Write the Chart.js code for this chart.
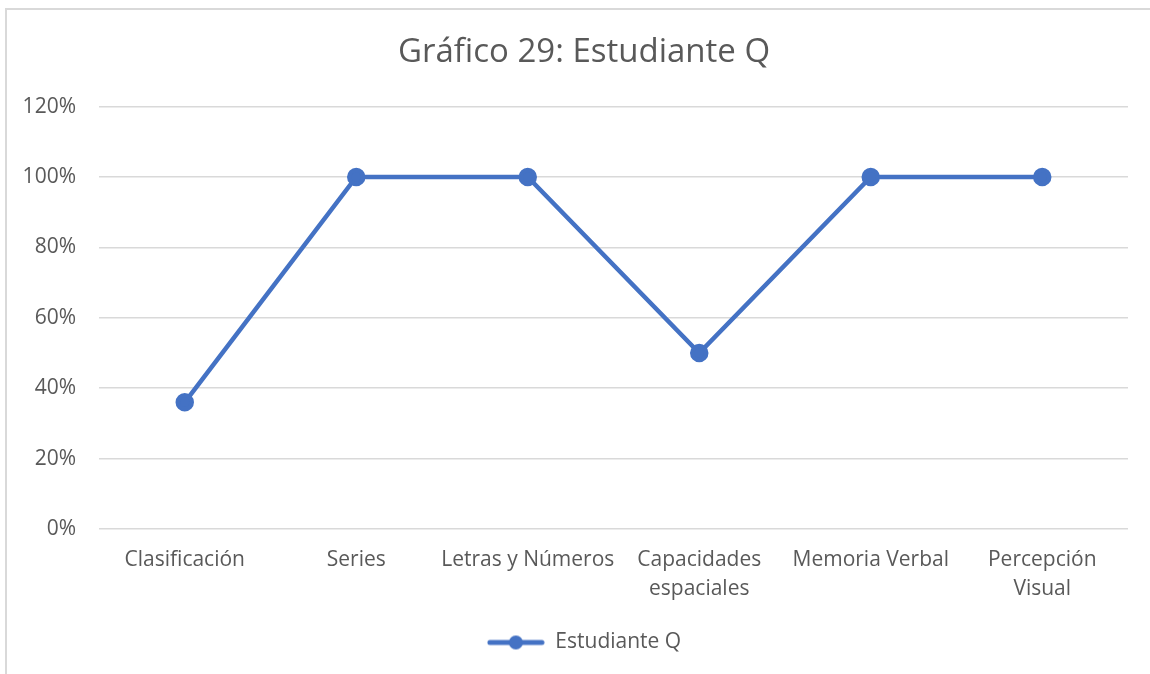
<!DOCTYPE html>
<html>
<head>
<meta charset="utf-8">
<script src="https://cdn.jsdelivr.net/npm/chart.js@4.4.1/dist/chart.umd.min.js"></script>
<style>
  html, body { margin: 0; padding: 0; background: #ffffff; }
  #wrap { position: relative; width: 1150px; height: 674px; overflow: hidden; }
  #frame { position: absolute; left: 5px; top: 8px; width: 1200px; height: 720px;
           border-left: 2px solid #d9d9d9; border-top: 2px solid #d9d9d9; }
  canvas { position: absolute; left: 0; top: 0; }
</style>
</head>
<body>
<div id="wrap">
  <div id="frame"></div>
  <canvas id="chart" width="1150" height="674"></canvas>
</div>
<script>
// Chart data
const categories = ['Clasificación', 'Series', 'Letras y Números', ['Capacidades', 'espaciales'], 'Memoria Verbal', ['Percepción', 'Visual']];
const seriesName = 'Estudiante Q';
const seriesValues = [0.36, 1.00, 1.00, 0.50, 1.00, 1.00];
const yTicks = [0, 0.2, 0.4, 0.6, 0.8, 1.0, 1.2];

const BLUE = '#4472C4';
const TEXT = '#595959';
const GRID = '#d9d9d9';
const FONT = '"Open Sans", "Noto Sans", sans-serif';

// Legend marker: short line with a dot in the middle
function legendMarker() {
  const c = document.createElement('canvas');
  c.width = 58; c.height = 16;
  const g = c.getContext('2d');
  g.strokeStyle = BLUE; g.lineWidth = 5; g.lineCap = 'round';
  g.beginPath(); g.moveTo(3, 8); g.lineTo(55, 8); g.stroke();
  g.fillStyle = BLUE;
  g.beginPath(); g.arc(29, 8, 7, 0, Math.PI * 2); g.fill();
  return c;
}

// Nudge title and legend slightly right, centred on the framed area
const nudgeBoxes = {
  id: 'nudgeBoxes',
  afterLayout(chart) {
    const dx = 10;
    for (const box of [chart.titleBlock, chart.legend]) {
      if (!box) continue;
      box.left += dx;
      box.right += dx;
    }
  }
};

new Chart(document.getElementById('chart'), {
  type: 'line',
  data: {
    labels: categories,
    datasets: [{
      label: seriesName,
      data: seriesValues,
      borderColor: BLUE,
      backgroundColor: BLUE,
      borderWidth: 4.5,
      pointRadius: 7,
      pointHoverRadius: 7,
      pointBackgroundColor: BLUE,
      pointBorderColor: BLUE,
      tension: 0,
      fill: false,
      pointStyle: 'circle'
    }]
  },
  plugins: [nudgeBoxes],
  options: {
    responsive: false,
    animation: false,
    layout: { padding: { left: 20, right: 22, top: 22, bottom: 11 } },
    plugins: {
      title: {
        display: true,
        text: 'Gráfico 29: Estudiante Q',
        color: TEXT,
        font: { family: FONT, size: 33, weight: 'normal' },
        padding: { top: 11, bottom: 34 }
      },
      legend: {
        position: 'bottom',
        labels: {
          color: TEXT,
          font: { family: FONT, size: 21 },
          usePointStyle: true,
          pointStyleWidth: 58,
          boxHeight: 16,
          padding: 10,
          generateLabels: () => [{
            text: seriesName, fontColor: TEXT, pointStyle: legendMarker(),
            hidden: false, datasetIndex: 0, lineWidth: 0
          }]
        }
      },
      tooltip: { enabled: false }
    },
    scales: {
      x: {
        offset: true,
        grid: { display: false },
        border: { display: false },
        ticks: { color: TEXT, font: { family: FONT, size: 21, lineHeight: 1.38 }, maxRotation: 0, autoSkip: false, padding: 9 },
        afterFit: (s) => { s.height = 93; }
      },
      y: {
        min: 0, max: 1.2,
        afterBuildTicks: (s) => { s.ticks = yTicks.map(v => ({ value: v })); },
        grid: { color: GRID, lineWidth: 1.5, drawTicks: false },
        border: { display: false },
        ticks: {
          color: TEXT, font: { family: FONT, size: 21 }, padding: 23,
          callback: (v) => Math.round(v * 100) + '%'
        },
        afterFit: (s) => { s.width = 79; }
      }
    }
  }
});
</script>
</body>
</html>
